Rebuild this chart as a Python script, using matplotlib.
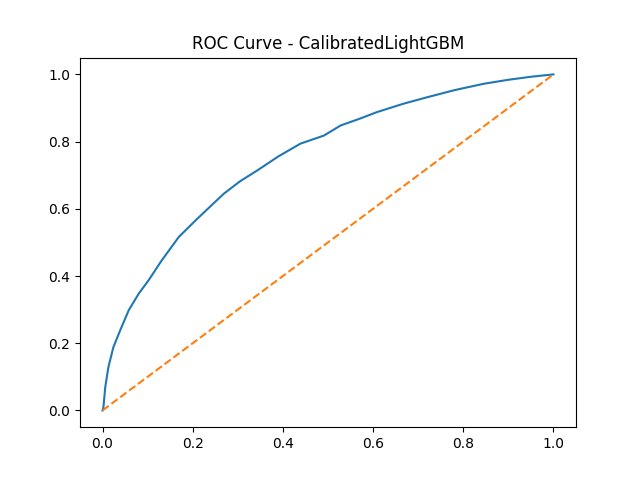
import matplotlib
matplotlib.use("Agg")
import matplotlib.pyplot as plt

# ROC points
fpr = [0.0, 0.002, 0.006, 0.013, 0.024, 0.039, 0.058, 0.080, 0.102, 0.131,
       0.169, 0.206, 0.235, 0.269, 0.305, 0.343, 0.39, 0.439, 0.491, 0.528,
       0.57, 0.609, 0.668, 0.72, 0.78, 0.845, 0.9, 0.95, 1.0]
tpr = [0.0, 0.01, 0.069, 0.129, 0.188, 0.238, 0.298, 0.347, 0.387, 0.446,
       0.516, 0.565, 0.602, 0.645, 0.682, 0.714, 0.756, 0.794, 0.818, 0.848,
       0.868, 0.888, 0.913, 0.932, 0.953, 0.972, 0.984, 0.993, 1.0]
diag = [0, 1]

fig, ax = plt.subplots(figsize=(6.4, 4.8), dpi=100)
ax.plot(fpr, tpr)
ax.plot(diag, diag, linestyle="--")
ax.set_title("ROC Curve - CalibratedLightGBM")
fig.savefig("out.png")
